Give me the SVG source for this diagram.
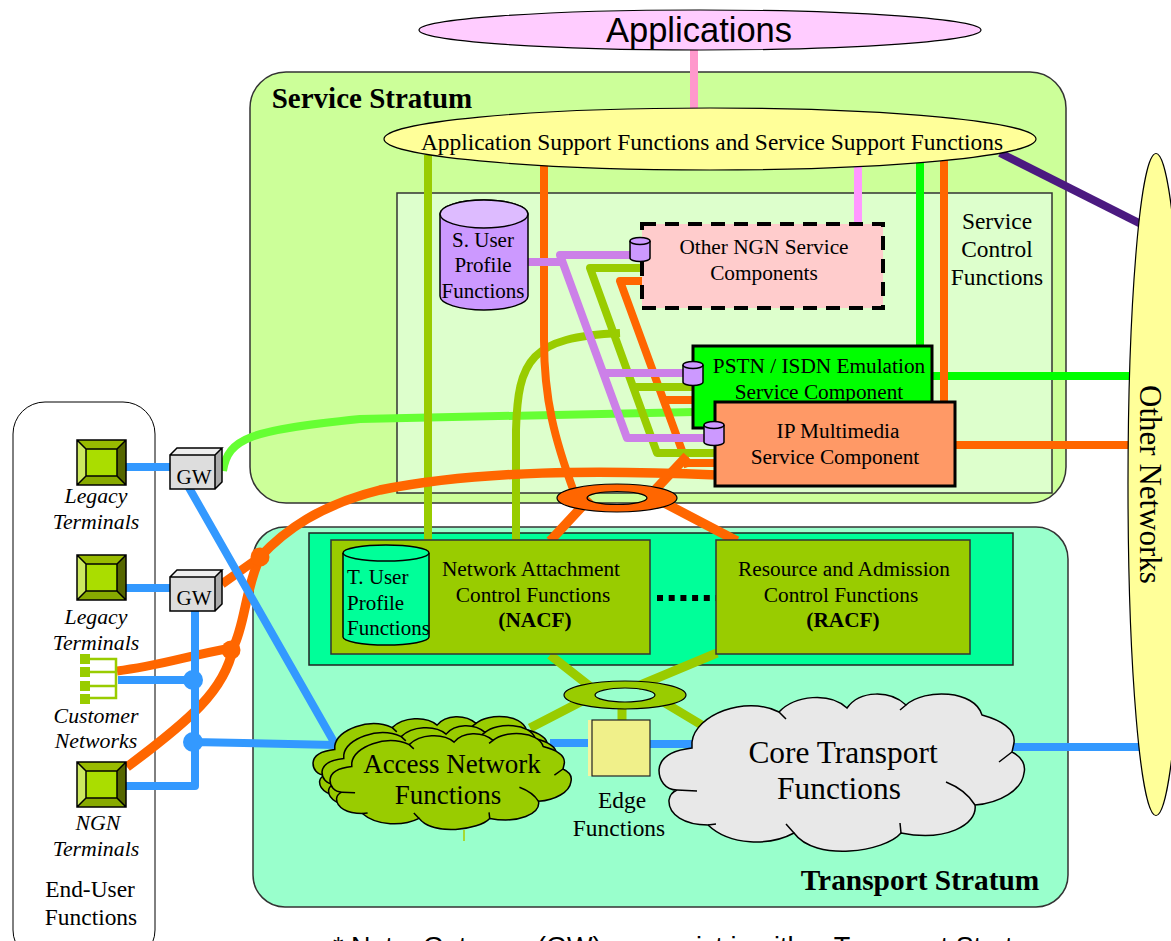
<svg xmlns="http://www.w3.org/2000/svg" xmlns:xlink="http://www.w3.org/1999/xlink" width="1171" height="941" viewBox="0 0 1171 941">
<style>
text{font-family:"Liberation Serif","Times New Roman",serif;fill:#000;text-anchor:middle}
.s20{font-size:21.3px}.s21{font-size:21px}.s22{font-size:23.4px}
.it{font-size:21.8px;font-style:italic}
.b{font-weight:bold}
.c{fill:none;stroke-linecap:butt;stroke-linejoin:round;stroke-width:8}
.blue{stroke:#3399FF}.or{stroke:#FF6600}.ol{stroke:#99CC00}.li{stroke:#CC80E8}
.box{stroke:#000;stroke-width:1.5}
.cyl{fill:#CC99FF;stroke:#000;stroke-width:1.5}
.t1{fill:#AADD00}.t2{fill:#99BB00}.t3{fill:#CCE860}.t4{fill:#556600}.t5{fill:#88AA00}
.cl{stroke:#000;stroke-width:1.5;vector-effect:non-scaling-stroke}
</style>
<defs>
<g id="cloud">
<path class="cl" d="M692 748L692 742C695 715 745 695 779 712C795 695 830 692 847 708C860 690 890 690 906 705C925 688 975 690 982 715C1000 720 1016 728 1014 743L1012 752C1022 757 1026 765 1024 773C1022 790 1000 803 975 805C978 825 945 842 901 833C885 852 815 862 794 833C770 846 730 846 708 825C685 825 668 815 669 800Q670 793 677 790C665 790 659 780 659 770C660 755 675 750 692 748Z"/>
<path class="cl" fill="none" d="M779 712L786 719M906 705L900 710M999 762L1012 752M946 782Q966 790 975 805M901 833L900 823M794 833L786 824M677 790L697 791M708 825L716 824"/>
</g>
<g id="term">
<rect class="t1" x="0" y="0" width="49" height="45"/>
<polygon class="t2" points="0,0 49,0 40,9 9,9"/>
<polygon class="t3" points="0,0 9,9 9,36 0,45"/>
<polygon class="t4" points="49,0 40,9 40,36 49,45"/>
<polygon class="t5" points="0,45 9,36 40,36 49,45"/>
<path d="M0 0H49V45H0ZM9 9H40V36H9ZM0 0L9 9M49 0L40 9M0 45L9 36M49 45L40 36" fill="none" stroke="#000" stroke-width="1.5"/>
</g>
<g id="gwcube">
<rect x="0" y="7" width="45" height="34" fill="#DDDDDD"/>
<polygon points="0,7 7,0 52,0 45,7" fill="#EEEEEE"/>
<polygon points="45,7 52,0 52,34 45,41" fill="#AAAAAA"/>
<path d="M0 7H45V41H0ZM0 7L7 0H52L45 7M52 0V34L45 41" fill="none" stroke="#000" stroke-width="1.5"/>
</g>
<g id="mini">
<path class="cyl" d="M0 4A10 3.5 0 0 1 20 4V21A10 3.5 0 0 1 0 21Z"/>
<path d="M0 4A10 3.5 0 0 0 20 4" fill="none" stroke="#000" stroke-width="1.5"/>
</g>
</defs>

<g id="end-user-functions"><rect x="13" y="402" width="142" height="560" rx="32" fill="#fff" stroke="#000" stroke-width="1"/></g>
<g id="service-stratum"><rect x="250" y="72" width="816" height="431" rx="36" fill="#CCFF99" stroke="#333" stroke-width="1.5"/></g>
<g id="service-control"><rect x="397" y="193" width="655" height="300" fill="#DDFFCC" stroke="#333" stroke-width="1.5"/></g>
<g id="transport-stratum"><rect x="253" y="527" width="815" height="380" rx="32" fill="#99FFCC" stroke="#333" stroke-width="1.5"/></g>
<g id="transport-control"><rect x="309" y="533" width="704" height="132" fill="#00FF99" stroke="#222" stroke-width="1.5"/></g>

<g id="connectors">
<path class="c" stroke="#FF99CC" d="M694 50V110"/>
<path class="c" stroke="#FF99FF" d="M858 165V226"/>
<path class="c" stroke="#4B1A80" d="M1000 153L1141 224"/>
<path class="c" stroke="#00FF00" d="M920 160V350M932 376H1130"/>
<path class="c or" d="M944 160V404M955 445H1130"/>
<path class="c" stroke="#66FF33" d="M223 471C228 438 250 430 360 419L695 412"/>
<path class="c ol" d="M428 155V541M516 541V430C518 360 530 337 620 333"/>
<path class="c or" d="M544 165V340C544 400 555 440 574 492"/>
<path class="c or" d="M642 281H620L688 467M663 400H693M688 463H716"/>
<path class="c ol" d="M642 268H590L657 453H716M633 387H693"/>
<path class="c li" d="M528 262H560M630 255H560L627 438H705M603 373H684"/>
<path class="c or" style="stroke-width:9.5" d="M590 498L550 541M655 498L737 541M655 490L687 456"/>
<path class="c or" style="stroke-width:9.5" d="M717 475C600 470 480 470 380 490C320 505 285 530 260 557C245 590 245 625 233 648C225 690 190 720 127 767"/>
<path class="c or" style="stroke-width:9" d="M222 584L260 557M117 671C160 666 190 655 232 648"/>
<circle cx="260" cy="557" r="9.5" fill="#FF6600"/><circle cx="231" cy="650" r="9.5" fill="#FF6600"/>
<path class="c blue" d="M126 467H170M126 588H170M188 486L334 742M195 610V786H126M118 680H195M193 742L335 745M550 743H600M645 744H695M1012 747H1141"/>
<circle cx="193" cy="680" r="10" fill="#3399FF"/><circle cx="193" cy="742" r="10" fill="#3399FF"/>
<path class="c ol" style="stroke-width:9" d="M550 655L592 688M717 653L638 686M590 697L530 728M622 705V722M655 697L705 727"/>
<path d="M657 598H716" fill="none" stroke="#000" stroke-width="6" stroke-dasharray="6 5.7"/>
<path d="M464 830V841" stroke="#AACC00" stroke-width="1.5"/>
</g>

<g id="applications"><ellipse cx="700" cy="30" rx="281" ry="20" fill="#FFCCFF" stroke="#000" stroke-width="1.2"/><text x="699" y="42" style="font-family:'Liberation Sans',Arial,sans-serif;font-size:34.5px">Applications</text></g>
<g id="app-support"><ellipse cx="710" cy="139" rx="326" ry="31" fill="#FFFF99" stroke="#000" stroke-width="1.2"/><text x="712" y="150" style="font-size:23.4px">Application Support Functions and Service Support Functions</text></g>
<g id="other-networks"><ellipse cx="1156" cy="484.5" rx="28" ry="331" fill="#FFFF99" stroke="#000" stroke-width="1.2"/><text transform="translate(1140 484.5) rotate(90)" style="font-size:31px">Other Networks</text></g>
<g id="service-stratum-label"><text x="372" y="108" class="b" style="font-size:29px">Service Stratum</text></g>
<g id="service-control-label"><text x="997" y="229" class="s22">Service</text><text x="997" y="257" class="s22">Control</text><text x="997" y="285" class="s22">Functions</text></g>

<g id="s-user-profile"><path class="cyl" d="M440 214A44 14 0 0 1 528 214V296A44 14 0 0 1 440 296Z"/><path d="M440 214A44 14 0 0 0 528 214A44 14 0 0 0 440 214Z" fill="#DDBBFF" stroke="#000" stroke-width="1.5"/><text x="483" y="247" class="s21">S. User</text><text x="483" y="272" class="s21">Profile</text><text x="483" y="298" class="s21">Functions</text></g>

<g id="other-ngn"><rect x="642" y="224" width="241" height="84" fill="#FFCCCC" stroke="#000" stroke-width="4" stroke-dasharray="14 9"/><text x="764" y="254" class="s20">Other NGN Service</text><text x="764" y="280" class="s20">Components</text><use xlink:href="#mini" href="#mini" x="630" y="237"/></g>
<g id="pstn"><rect x="693" y="346" width="239" height="82" fill="#00FF00" stroke="#000" stroke-width="3"/><text x="819" y="373" class="s20">PSTN / ISDN Emulation</text><text x="819" y="399" class="s20">Service Component</text><use xlink:href="#mini" href="#mini" x="683" y="361"/></g>
<g id="ip-multimedia"><rect x="715" y="402" width="240" height="84" fill="#FF9966" stroke="#000" stroke-width="3"/><text x="838" y="438" class="s20">IP Multimedia</text><text x="835" y="464" class="s20">Service Component</text><use xlink:href="#mini" href="#mini" x="704" y="421"/></g>

<g id="ring-orange"><path d="M557 498A60 14 0 1 1 677 498A60 14 0 1 1 557 498ZM587 498A30 6.5 0 1 0 647 498A30 6.5 0 1 0 587 498Z" fill="#FF6600" fill-rule="evenodd" stroke="#000" stroke-width="1.2"/></g>

<g id="nacf"><rect x="331" y="540" width="319" height="114" fill="#99CC00" stroke="#333" stroke-width="1.5"/><text x="531" y="576" class="s20">Network Attachment</text><text x="533" y="602" class="s20">Control Functions</text><text x="535" y="627" class="s20 b">(NACF)</text></g>
<g id="t-user-profile"><path d="M343 553A43 8 0 0 1 429 553V637A43 8 0 0 1 343 637Z" fill="#00FF99" stroke="#000" stroke-width="1.5"/><path d="M343 553A43 8 0 0 0 429 553" fill="none" stroke="#000" stroke-width="1.5"/><text x="347" y="584" class="s21" style="text-anchor:start">T. User</text><text x="347" y="610" class="s21" style="text-anchor:start">Profile</text><text x="347" y="635" class="s21" style="text-anchor:start">Functions</text></g>
<g id="racf"><rect x="716" y="540" width="254" height="114" fill="#99CC00" stroke="#333" stroke-width="1.5"/><text x="844" y="576" class="s20">Resource and Admission</text><text x="841" y="602" class="s20">Control Functions</text><text x="843" y="627" class="s20 b">(RACF)</text></g>

<g id="ring-olive"><path d="M564 695A61 14 0 1 1 686 695A61 14 0 1 1 564 695ZM595 695A30 7 0 1 0 655 695A30 7 0 1 0 595 695Z" fill="#99CC00" fill-rule="evenodd" stroke="#000" stroke-width="1.2"/></g>

<g id="edge-functions"><rect x="588" y="720" width="62" height="56" fill="#F5F5A0"/><rect x="592" y="720" width="58" height="56" fill="#F0F08A" stroke="#222" stroke-width="1.2"/><text x="622" y="808" class="s22">Edge</text><text x="619" y="836" class="s22">Functions</text></g>

<g id="access-network">
<use xlink:href="#cloud" href="#cloud" fill="#99CC00" transform="translate(313 716) scale(.66 .61) translate(-659 -693)"/>
<use xlink:href="#cloud" href="#cloud" fill="#99CC00" transform="translate(322 725) scale(.66 .61) translate(-659 -693)"/>
<use xlink:href="#cloud" href="#cloud" fill="#99CC00" transform="translate(330 733) scale(.66 .61) translate(-659 -693)"/>
<text x="452" y="773" style="font-size:27px">Access Network</text><text x="448" y="804" style="font-size:27px">Functions</text></g>
<g id="core-transport"><use xlink:href="#cloud" href="#cloud" fill="#E8E8E8"/><text x="843" y="763" style="font-size:31.4px">Core Transport</text><text x="839" y="799" style="font-size:31.4px">Functions</text></g>
<g id="transport-stratum-label"><text x="920" y="890" class="b" style="font-size:29.4px">Transport Stratum</text></g>

<g id="legacy-1"><use xlink:href="#term" href="#term" x="77" y="440"/><text x="96" y="503" class="it">Legacy</text><text x="96" y="529" class="it">Terminals</text></g>
<g id="legacy-2"><use xlink:href="#term" href="#term" x="77" y="555"/><text x="96" y="624" class="it">Legacy</text><text x="96" y="650" class="it">Terminals</text></g>
<g id="customer-networks"><path d="M85 659H116V698H85M85 672H116M85 686H116" fill="none" stroke="#99CC00" stroke-width="2.5"/><path d="M80 654h10v10h-10zM80 667h10v10h-10zM80 681h10v10h-10zM80 694h10v10h-10z" fill="#99CC00"/><text x="96" y="723" class="it">Customer</text><text x="96" y="748" class="it">Networks</text></g>
<g id="ngn-terminals"><use xlink:href="#term" href="#term" x="77" y="762"/><text x="98" y="830" class="it">NGN</text><text x="96" y="856" class="it">Terminals</text></g>
<g id="gw-1"><use xlink:href="#gwcube" href="#gwcube" x="170" y="448"/><text x="194" y="484" style="font-size:21px">GW</text></g>
<g id="gw-2"><use xlink:href="#gwcube" href="#gwcube" x="170" y="570"/><text x="194" y="605" style="font-size:21px">GW</text></g>
<g id="end-user-label"><text x="90" y="897" class="s22">End-User</text><text x="91" y="925" class="s22">Functions</text></g>
<g id="note"><text x="333" y="956" style="font-family:'Liberation Sans',Arial,sans-serif;font-size:27px;text-anchor:start">* Note: Gateway (GW) may exist in either Transport Stratum</text></g>
</svg>
